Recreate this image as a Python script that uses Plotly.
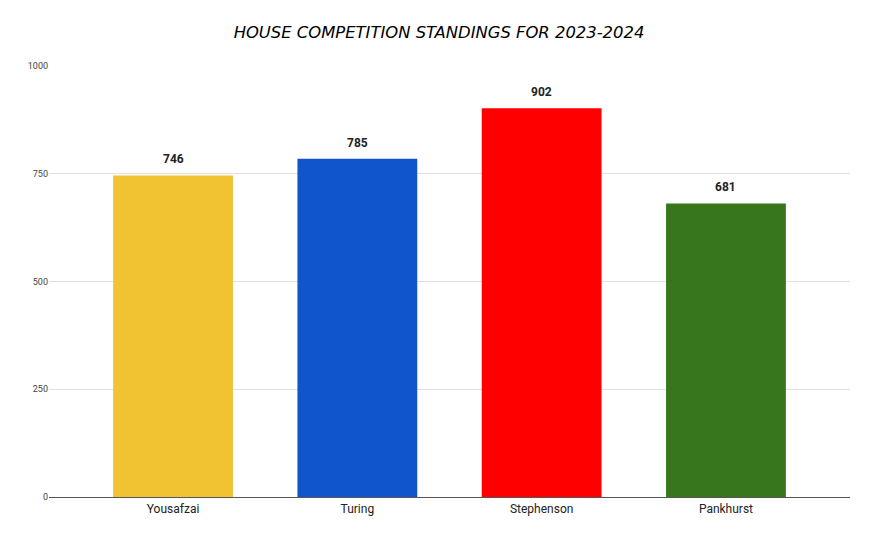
import plotly.graph_objects as go

houses = ["Yousafzai", "Turing", "Stephenson", "Pankhurst"]
points = [746, 785, 902, 681]
colours = ["#f1c232", "#1155cc", "#ff0000", "#38761d"]
y_ticks = [0, 250, 500, 750, 1000]

fig = go.Figure()
fig.add_trace(go.Bar(
    x=houses, y=points,
    marker=dict(color=colours, line=dict(width=0)),
    width=0.65,
    hoverinfo="x+y",
))

for h, p in zip(houses, points):
    fig.add_annotation(
        x=h, y=p, text="<b>%d</b>" % p, showarrow=False,
        yanchor="bottom", yshift=7,
        font=dict(family="Roboto", size=12, color="#222222"),
    )

fig.update_layout(
    width=876, height=539,
    paper_bgcolor="white", plot_bgcolor="white",
    margin=dict(l=41, r=34, t=58, b=50),
    showlegend=False,
    title=dict(
        text="<i>HOUSE COMPETITION STANDINGS FOR 2023-2024</i>",
        x=0.492, xanchor="center", y=0.9555, yanchor="middle",
        font=dict(family="DejaVu Sans", size=16.4, color="#000000"),
    ),
    xaxis=dict(
        range=[-0.673, 3.673],
        showgrid=False, showline=False, ticks="",
        ticklabelstandoff=3,
        tickfont=dict(family="Roboto", size=12, color="#222222"),
    ),
    yaxis=dict(
        range=[0, 1000], tickvals=y_ticks,
        showgrid=True, gridcolor="#e0e0e0", gridwidth=1,
        zeroline=True, zerolinecolor="#555555", zerolinewidth=1,
        showline=False, ticks="",
        tickfont=dict(family="Roboto", size=9, color="#444444"),
    ),
)

fig.write_html("out.html")
